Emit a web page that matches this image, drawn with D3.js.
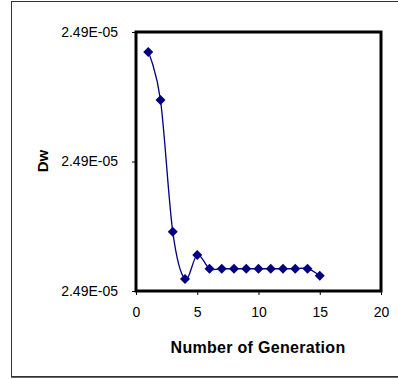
<!DOCTYPE html>
<html>
<head>
<meta charset="utf-8">
<script src="https://cdn.jsdelivr.net/npm/d3@7"></script>
<style>
	body { margin: 0; background: #fff; }
	svg { display: block; font-family: "Liberation Sans", Arial, sans-serif; }
</style>
</head>
<body>
<svg id="chart" width="398" height="379"></svg>
<script>
	/* Chart data */
	let generations = [1, 2, 3, 4, 5, 6, 7, 8, 9, 10, 11, 12, 13, 14, 15];
	let dwValues = [2.490423e-5, 2.490237e-5, 2.489729e-5, 2.489546e-5, 2.489639e-5,
		2.489586e-5, 2.489586e-5, 2.489586e-5, 2.489586e-5, 2.489586e-5,
		2.489586e-5, 2.489586e-5, 2.489586e-5, 2.489586e-5, 2.489559e-5];
	let xTicks = [0, 5, 10, 15, 20];
	let yTicks = [2.4895e-5, 2.49e-5, 2.4905e-5];

	let margin = { left: 136, right: 17, top: 32, bottom: 88 };
	let width = 398 - margin.left - margin.right;
	let height = 379 - margin.top - margin.bottom;

	let svg = d3.select("#chart");

	// Outer chart area border
	svg.append("rect")
		.attr("x", 11.5)
		.attr("y", 1.5)
		.attr("width", 400)
		.attr("height", 375)
		.attr("fill", "none")
		.attr("stroke", "#333")
		.attr("stroke-width", 1);
	svg.append("line")
		.attr("x1", 11).attr("x2", 398)
		.attr("y1", 377.5).attr("y2", 377.5)
		.attr("stroke", "#666");

	let xScale = d3.scaleLinear().domain([0, 20]).range([0, width]);
	let yScale = d3.scaleLinear().domain([2.4895e-5, 2.4905e-5]).range([height, 0]);

	// Excel style "2.49E-05"
	let sciFormat = function(v) {
		let parts = v.toExponential(2).split("e");
		let exp = parseInt(parts[1], 10);
		let sign = exp < 0 ? "-" : "+";
		return parts[0] + "E" + sign + String(Math.abs(exp)).padStart(2, "0");
	};

	let g = svg.append("g").attr("transform", "translate(" + margin.left + "," + margin.top + ")");

	// Axes
	let xAxis = g.append("g")
		.attr("transform", "translate(0," + height + ")")
		.call(d3.axisBottom(xScale).tickValues(xTicks).tickSize(4).tickPadding(12));
	let yAxis = g.append("g")
		.call(d3.axisLeft(yScale).tickValues(yTicks).tickSize(4).tickPadding(14).tickFormat(sciFormat));

	[xAxis, yAxis].forEach(function(a) {
		a.select(".domain").remove();
		a.selectAll("line").attr("stroke", "#000");
		a.selectAll("text").attr("font-size", 14).attr("fill", "#000").attr("font-family", "Liberation Sans, Arial, sans-serif");
	});

	// Plot area border
	g.append("rect")
		.attr("width", width)
		.attr("height", height)
		.attr("fill", "none")
		.attr("stroke", "#000")
		.attr("stroke-width", 3);

	// Smoothed line
	let line = d3.line()
		.x(function(d, i) { return xScale(generations[i]); })
		.y(function(d) { return yScale(d); })
		.curve(d3.curveCatmullRom.alpha(0));

	g.append("path")
		.datum(dwValues)
		.attr("d", line)
		.attr("fill", "none")
		.attr("stroke", "#000080")
		.attr("stroke-width", 1.3);

	// Diamond markers
	g.selectAll(".marker")
		.data(dwValues)
		.enter()
		.append("path")
		.classed("marker", true)
		.attr("transform", function(d, i) { return "translate(" + xScale(generations[i]) + "," + yScale(d) + ")"; })
		.attr("d", "M0,-5L5,0L0,5L-5,0Z")
		.attr("fill", "#000080");

	// Axis titles
	svg.append("text")
		.attr("x", 258)
		.attr("y", 353)
		.attr("text-anchor", "middle")
		.attr("font-size", 16)
		.attr("font-weight", "bold")
		.attr("letter-spacing", 0.3)
		.text("Number of Generation");

	svg.append("text")
		.attr("transform", "translate(48,161) rotate(-90)")
		.attr("text-anchor", "middle")
		.attr("font-size", 15)
		.attr("font-weight", "bold")
		.text("Dw");
</script>
</body>
</html>
